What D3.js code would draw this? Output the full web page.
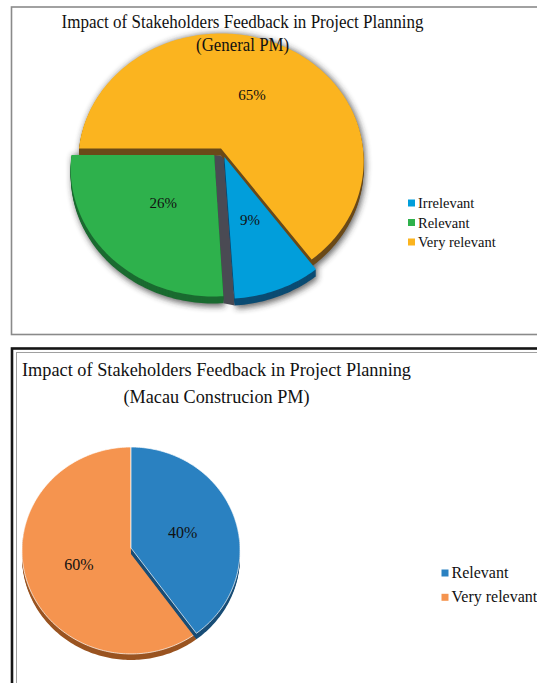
<!DOCTYPE html>
<html>
<head>
<meta charset="utf-8">
<script src="https://cdn.jsdelivr.net/npm/d3@7"></script>
<style>
  html, body { margin: 0; padding: 0; background: #fff; }
  svg { display: block; }
  text { font-family: "Liberation Serif", "Times New Roman", serif; fill: #111; }
</style>
</head>
<body>
<svg id="chart" width="537" height="683"></svg>
<script>
// ---------- data ----------
const topTitle = ["Impact of Stakeholders Feedback in Project Planning", "(General PM)"];
const topCategories = ["Irrelevant", "Relevant", "Very relevant"];
const topValues = [9, 26, 65];
const topColors = ["#019EDB", "#2EB14C", "#FBB41F"];
const topSideColors = ["#0B4C73", "#1A6B30", "#6B4A19"];
const topExplode = [0.07, 0.07, 0];

const botTitle = ["Impact of Stakeholders Feedback in Project Planning", "(Macau Construcion PM)"];
const botCategories = ["Relevant", "Very relevant"];
const botValues = [40, 60];
const botColors = ["#2A81C1", "#F5944F"];
const botSideColors = ["#184D76", "#9A5421"];

const svg = d3.select("#chart");

// ---------- panel borders ----------
svg.append("rect").attr("x", 11.5).attr("y", 7).attr("width", 540).attr("height", 327.5)
  .attr("fill", "none").attr("stroke", "#8a8a8a").attr("stroke-width", 1.6);
svg.append("rect").attr("x", 12).attr("y", 348.5).attr("width", 540).attr("height", 340)
  .attr("fill", "none").attr("stroke", "#151515").attr("stroke-width", 2.6);
svg.append("rect").attr("x", 16.5).attr("y", 352.5).attr("width", 540).attr("height", 340)
  .attr("fill", "none").attr("stroke", "#a0a0a0").attr("stroke-width", 1);

// shadow filter
const defs = svg.append("defs");
const f = defs.append("filter").attr("id", "shadow").attr("x", "-20%").attr("y", "-20%").attr("width", "140%").attr("height", "140%");
f.append("feGaussianBlur").attr("stdDeviation", 3);

// ---------- 3D pie helper ----------
function drawPie(g, opts) {
  const { cx, cy, s, sa, k, depth, values, colors, sides, explode, start, labelSize, shadow } = opts;
  const proj = (u, v) => {
    const d = 1 - k * v;
    return [cx + s * u / d, cy + sa * v / d];
  };
  const arcs = d3.pie().sort(null).startAngle(start).endAngle(start + 2 * Math.PI)(values);
  const line = d3.line().curve(d3.curveLinearClosed);
  const offsetOf = (a, e) => {
    const mid = (a.startAngle + a.endAngle) / 2;
    return [e * Math.sin(mid), -e * Math.cos(mid)];
  };
  const slicePts = (a, e) => {
    const [ou, ov] = offsetOf(a, e);
    const n = Math.max(8, Math.ceil((a.endAngle - a.startAngle) / 0.02));
    const pts = [proj(ou, ov)];
    d3.range(n + 1).forEach(i => {
      const t = a.startAngle + (a.endAngle - a.startAngle) * i / n;
      pts.push(proj(ou + Math.sin(t), ov - Math.cos(t)));
    });
    return pts;
  };
  if (shadow) {
    const sg = g.append("g").attr("filter", "url(#shadow)").attr("opacity", 0.7);
    arcs.forEach((a, i) => {
      const p = slicePts(a, explode[i]);
      d3.range(0, depth + 4).forEach(dy => {
        sg.append("path").attr("d", line(p)).attr("transform", `translate(1.5,${dy})`).attr("fill", "#2a2a2a");
      });
    });
    // dark gap between adjacent exploded slices
    arcs.forEach((a, i) => {
      const j = (i + 1) % arcs.length;
      if (explode[i] > 0 && explode[j] > 0) {
        const t = a.endAngle;
        const [u1, v1] = offsetOf(a, explode[i]);
        const [u2, v2] = offsetOf(arcs[j], explode[j]);
        const quad = [
          proj(u1, v1), proj(u2, v2),
          proj(u2 + Math.sin(t), v2 - Math.cos(t)).map((c, m) => m ? c + depth : c),
          proj(u1 + Math.sin(t), v1 - Math.cos(t)).map((c, m) => m ? c + depth : c)
        ];
        g.append("path").attr("d", line(quad)).attr("fill", "#4a4a53");
      }
    });
  }
  // draw back to front: reverse index order
  d3.range(arcs.length - 1, -1, -1).forEach(i => {
    const a = arcs[i];
    const p = slicePts(a, explode[i]);
    const sg = g.append("g");
    d3.range(depth, 0, -1).forEach(dy => {
      sg.append("path").attr("d", line(p)).attr("transform", `translate(0,${dy})`).attr("fill", sides[i]);
    });
    sg.append("path").attr("d", line(p)).attr("fill", colors[i])
      .attr("stroke", opts.stroke || "none").attr("stroke-width", 0.7);
  });
  // labels
  arcs.forEach((a, i) => {
    const mid = (a.startAngle + a.endAngle) / 2;
    const e = explode[i];
    const r = 0.5;
    const [x, y] = proj((e + r) * Math.sin(mid), -(e + r) * Math.cos(mid));
    g.append("text").attr("x", x).attr("y", y).attr("dy", "0.35em")
      .attr("text-anchor", "middle").attr("font-size", labelSize)
      .text(Math.round(a.value) + "%");
  });
}

function drawTitle(lines, cx, baselines, widths, size) {
  lines.forEach((t, i) => {
    svg.append("text").attr("x", cx).attr("y", baselines[i]).attr("text-anchor", "middle")
      .attr("font-size", size).attr("textLength", widths[i]).attr("lengthAdjust", "spacingAndGlyphs")
      .text(t);
  });
}

function drawLegend(cats, colors, x, y0, step, size, sq) {
  const lg = svg.append("g");
  cats.forEach((c, i) => {
    const y = y0 + i * step;
    lg.append("rect").attr("x", x).attr("y", y - sq - 1.5).attr("width", sq).attr("height", sq).attr("fill", colors[i]);
    lg.append("text").attr("x", x + sq + 3).attr("y", y).attr("font-size", size).text(c);
  });
}

// ---------- top chart ----------
const gTop = svg.append("g");
drawPie(gTop, {
  cx: 221, cy: 148.5, s: 142, sa: 126.3, k: 0.098, depth: 7,
  values: topValues, colors: topColors, sides: topSideColors, explode: topExplode,
  start: 0.8 * Math.PI, labelSize: 15, shadow: true
});
drawTitle(topTitle, 242.6, [28.3, 50.5], [362, 93], 18.5);
drawLegend(topCategories, topColors, 408, 208, 19.5, 14.5, 7);

// ---------- bottom chart ----------
const gBot = svg.append("g");
drawPie(gBot, {
  cx: 131, cy: 548, s: 109, sa: 103.4, k: 0.024, depth: 6,
  values: botValues, colors: botColors, sides: botSideColors, explode: [0, 0],
  start: 0, labelSize: 16, shadow: false, stroke: "#ffffff"
});
drawTitle(botTitle, 216.5, [376, 403.3], [389, 186], 18.8);
drawLegend(botCategories, botColors, 441.5, 578, 24.3, 16, 7);
</script>
</body>
</html>
